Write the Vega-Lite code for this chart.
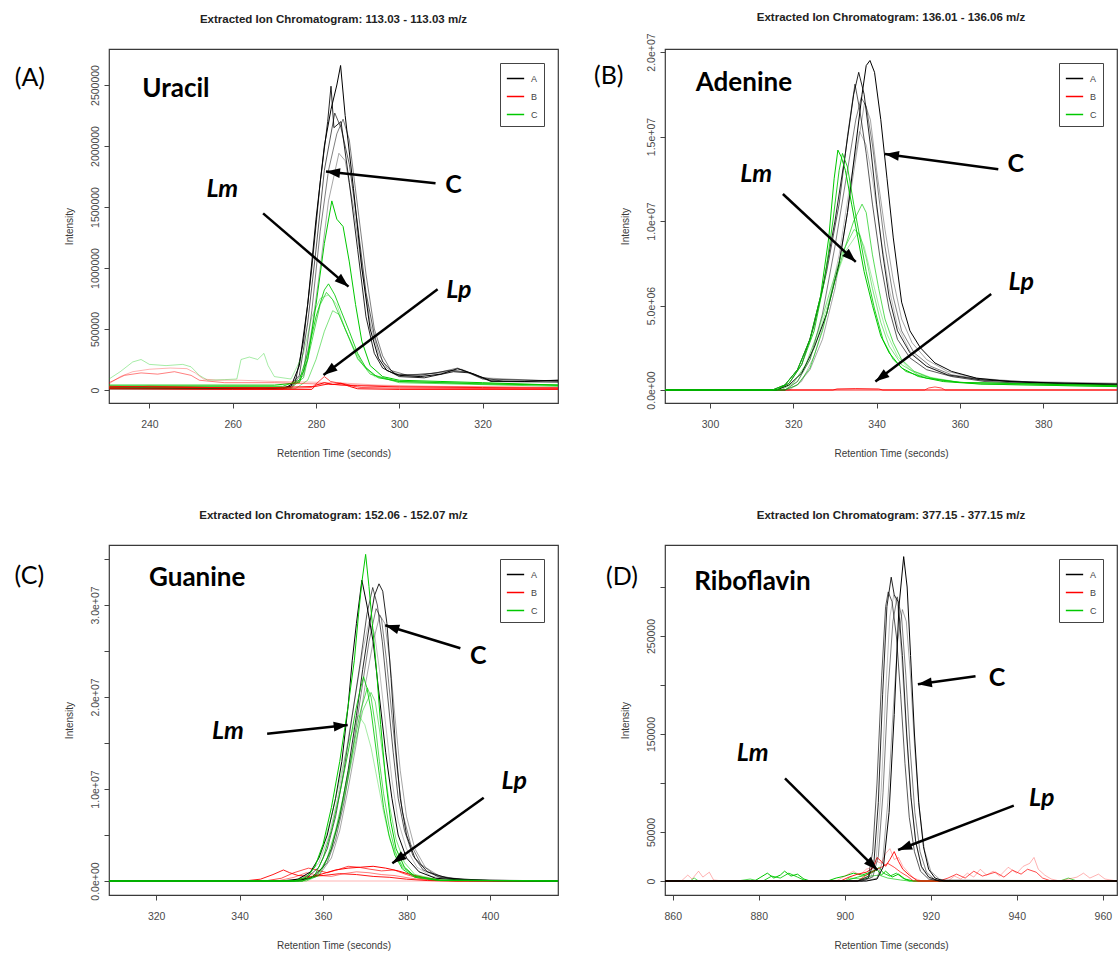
{
"$schema": "https://vega.github.io/schema/vega-lite/v6.json",
"background": "white",
"padding": {"left": 13, "top": 11, "right": 0, "bottom": 0},
"columns": 2,
"spacing": {"row": 142, "column": 107},
"bounds": "flush",
"resolve": {"scale": {"x": "independent", "y": "independent", "color": "independent", "opacity": "independent", "angle": "independent"}, "legend": {"color": "independent"}},
"config": {
 "font": "Liberation Sans",
 "view": {"stroke": "#3a3a3a", "strokeWidth": 1.2},
 "axis": {"grid": false, "domain": false, "tickColor": "#444", "tickSize": 5, "tickWidth": 1, "labelColor": "#4a4a4a", "labelFontSize": 10.5, "labelFont": "Liberation Sans", "titleFont": "Liberation Sans", "titleFontSize": 10, "titleFontWeight": "normal", "titleColor": "#3a3a3a", "labelOverlap": false, "labelFlush": false},
 "axisX": {"labelPadding": 11, "minExtent": 27, "maxExtent": 27, "titlePadding": 18},
 "axisY": {"labelAngle": -90, "labelAlign": "center", "labelBaseline": "bottom", "labelPadding": 4, "minExtent": 22, "maxExtent": 22, "titlePadding": 13},
 "title": {"font": "Liberation Sans", "fontSize": 11.5, "fontWeight": "bold", "color": "#222", "anchor": "middle", "frame": "group", "offset": 24, "baseline": "bottom"},
 "legend": {"orient": "top-right", "offset": 14, "strokeColor": "#444", "fillColor": "white", "padding": 6, "symbolType": "stroke", "symbolSize": 300, "symbolStrokeWidth": 1.5, "labelFont": "Liberation Sans", "labelFontSize": 9, "labelColor": "#444", "rowPadding": 3, "labelOffset": 6}
},
"datasets": {
 "pA": [
  {"s":"A1","g":"A","t":230.3,"v":15000},{"s":"A1","g":"A","t":270,"v":12000},{"s":"A1","g":"A","t":274,"v":30000},{"s":"A1","g":"A","t":276,"v":200000},{"s":"A1","g":"A","t":278,"v":700000},{"s":"A1","g":"A","t":280,"v":1400000},{"s":"A1","g":"A","t":282,"v":2000000},{"s":"A1","g":"A","t":283.6,"v":2300000},{"s":"A1","g":"A","t":285,"v":2500000},{"s":"A1","g":"A","t":285.9,"v":2660000},{"s":"A1","g":"A","t":287,"v":2250000},{"s":"A1","g":"A","t":289,"v":1650000},{"s":"A1","g":"A","t":291,"v":1000000},{"s":"A1","g":"A","t":293,"v":500000},{"s":"A1","g":"A","t":295,"v":260000},{"s":"A1","g":"A","t":297,"v":160000},{"s":"A1","g":"A","t":300,"v":120000},{"s":"A1","g":"A","t":305,"v":110000},{"s":"A1","g":"A","t":310,"v":130000},{"s":"A1","g":"A","t":314,"v":175000},{"s":"A1","g":"A","t":318,"v":130000},{"s":"A1","g":"A","t":322,"v":75000},{"s":"A1","g":"A","t":330,"v":70000},{"s":"A1","g":"A","t":338.1,"v":80000},
  {"s":"A2","g":"A","t":230.3,"v":10000},{"s":"A2","g":"A","t":272,"v":8000},{"s":"A2","g":"A","t":275,"v":60000},{"s":"A2","g":"A","t":277,"v":400000},{"s":"A2","g":"A","t":279,"v":1000000},{"s":"A2","g":"A","t":281,"v":1700000},{"s":"A2","g":"A","t":282.8,"v":2200000},{"s":"A2","g":"A","t":283.6,"v":2490000},{"s":"A2","g":"A","t":284.3,"v":2150000},{"s":"A2","g":"A","t":286,"v":2200000},{"s":"A2","g":"A","t":288,"v":1700000},{"s":"A2","g":"A","t":290,"v":1150000},{"s":"A2","g":"A","t":292,"v":600000},{"s":"A2","g":"A","t":294,"v":300000},{"s":"A2","g":"A","t":296,"v":180000},{"s":"A2","g":"A","t":300,"v":110000},{"s":"A2","g":"A","t":306,"v":100000},{"s":"A2","g":"A","t":313,"v":150000},{"s":"A2","g":"A","t":317,"v":140000},{"s":"A2","g":"A","t":322,"v":70000},{"s":"A2","g":"A","t":338.1,"v":65000},
  {"s":"A3","g":"A","t":230.3,"v":20000},{"s":"A3","g":"A","t":273,"v":15000},{"s":"A3","g":"A","t":276,"v":120000},{"s":"A3","g":"A","t":278,"v":550000},{"s":"A3","g":"A","t":280,"v":1150000},{"s":"A3","g":"A","t":282,"v":1800000},{"s":"A3","g":"A","t":284.5,"v":2270000},{"s":"A3","g":"A","t":286,"v":2150000},{"s":"A3","g":"A","t":288,"v":1850000},{"s":"A3","g":"A","t":290,"v":1350000},{"s":"A3","g":"A","t":292,"v":800000},{"s":"A3","g":"A","t":294,"v":450000},{"s":"A3","g":"A","t":296,"v":230000},{"s":"A3","g":"A","t":299,"v":130000},{"s":"A3","g":"A","t":305,"v":120000},{"s":"A3","g":"A","t":312,"v":160000},{"s":"A3","g":"A","t":316,"v":150000},{"s":"A3","g":"A","t":320,"v":90000},{"s":"A3","g":"A","t":338.1,"v":75000},
  {"s":"A4","g":"A","t":230.3,"v":25000},{"s":"A4","g":"A","t":274,"v":20000},{"s":"A4","g":"A","t":277,"v":150000},{"s":"A4","g":"A","t":279,"v":650000},{"s":"A4","g":"A","t":281,"v":1300000},{"s":"A4","g":"A","t":283,"v":1800000},{"s":"A4","g":"A","t":285,"v":2100000},{"s":"A4","g":"A","t":286.5,"v":2220000},{"s":"A4","g":"A","t":288,"v":2050000},{"s":"A4","g":"A","t":290,"v":1500000},{"s":"A4","g":"A","t":292,"v":950000},{"s":"A4","g":"A","t":294,"v":500000},{"s":"A4","g":"A","t":296,"v":280000},{"s":"A4","g":"A","t":298,"v":160000},{"s":"A4","g":"A","t":302,"v":120000},{"s":"A4","g":"A","t":309,"v":140000},{"s":"A4","g":"A","t":314,"v":180000},{"s":"A4","g":"A","t":319,"v":110000},{"s":"A4","g":"A","t":325,"v":70000},{"s":"A4","g":"A","t":338.1,"v":80000},
  {"s":"A5","g":"A","t":230.3,"v":10000},{"s":"A5","g":"A","t":274,"v":10000},{"s":"A5","g":"A","t":277,"v":120000},{"s":"A5","g":"A","t":279,"v":500000},{"s":"A5","g":"A","t":281,"v":1000000},{"s":"A5","g":"A","t":283,"v":1550000},{"s":"A5","g":"A","t":285.5,"v":1940000},{"s":"A5","g":"A","t":287,"v":1880000},{"s":"A5","g":"A","t":289,"v":1500000},{"s":"A5","g":"A","t":291,"v":1000000},{"s":"A5","g":"A","t":293,"v":550000},{"s":"A5","g":"A","t":295,"v":300000},{"s":"A5","g":"A","t":297,"v":180000},{"s":"A5","g":"A","t":300,"v":120000},{"s":"A5","g":"A","t":310,"v":140000},{"s":"A5","g":"A","t":315,"v":170000},{"s":"A5","g":"A","t":320,"v":100000},{"s":"A5","g":"A","t":338.1,"v":70000},
  {"s":"C1","g":"C","t":230.3,"v":40000},{"s":"C1","g":"C","t":270,"v":40000},{"s":"C1","g":"C","t":276,"v":60000},{"s":"C1","g":"C","t":278,"v":250000},{"s":"C1","g":"C","t":280,"v":700000},{"s":"C1","g":"C","t":282,"v":1200000},{"s":"C1","g":"C","t":283.8,"v":1550000},{"s":"C1","g":"C","t":285,"v":1400000},{"s":"C1","g":"C","t":286.5,"v":1340000},{"s":"C1","g":"C","t":288,"v":1050000},{"s":"C1","g":"C","t":289.5,"v":700000},{"s":"C1","g":"C","t":291,"v":400000},{"s":"C1","g":"C","t":293,"v":200000},{"s":"C1","g":"C","t":296,"v":110000},{"s":"C1","g":"C","t":300,"v":80000},{"s":"C1","g":"C","t":310,"v":70000},{"s":"C1","g":"C","t":320,"v":60000},{"s":"C1","g":"C","t":338.1,"v":40000},
  {"s":"C2","g":"C","t":230.3,"v":30000},{"s":"C2","g":"C","t":272,"v":30000},{"s":"C2","g":"C","t":276,"v":80000},{"s":"C2","g":"C","t":278,"v":300000},{"s":"C2","g":"C","t":280,"v":600000},{"s":"C2","g":"C","t":282,"v":820000},{"s":"C2","g":"C","t":283,"v":870000},{"s":"C2","g":"C","t":284.5,"v":780000},{"s":"C2","g":"C","t":286,"v":650000},{"s":"C2","g":"C","t":288,"v":480000},{"s":"C2","g":"C","t":290,"v":300000},{"s":"C2","g":"C","t":292,"v":180000},{"s":"C2","g":"C","t":295,"v":100000},{"s":"C2","g":"C","t":300,"v":70000},{"s":"C2","g":"C","t":320,"v":50000},{"s":"C2","g":"C","t":338.1,"v":40000},
  {"s":"C3","g":"C","t":230.3,"v":20000},{"s":"C3","g":"C","t":274,"v":20000},{"s":"C3","g":"C","t":277,"v":100000},{"s":"C3","g":"C","t":279,"v":400000},{"s":"C3","g":"C","t":281,"v":700000},{"s":"C3","g":"C","t":282.5,"v":800000},{"s":"C3","g":"C","t":284,"v":740000},{"s":"C3","g":"C","t":286,"v":580000},{"s":"C3","g":"C","t":288,"v":420000},{"s":"C3","g":"C","t":290,"v":260000},{"s":"C3","g":"C","t":293,"v":130000},{"s":"C3","g":"C","t":300,"v":60000},{"s":"C3","g":"C","t":338.1,"v":30000},
  {"s":"C4","g":"C","t":230.3,"v":10000},{"s":"C4","g":"C","t":275,"v":10000},{"s":"C4","g":"C","t":278,"v":80000},{"s":"C4","g":"C","t":280,"v":250000},{"s":"C4","g":"C","t":282,"v":480000},{"s":"C4","g":"C","t":284,"v":650000},{"s":"C4","g":"C","t":285.5,"v":620000},{"s":"C4","g":"C","t":287,"v":500000},{"s":"C4","g":"C","t":289,"v":350000},{"s":"C4","g":"C","t":291,"v":220000},{"s":"C4","g":"C","t":294,"v":120000},{"s":"C4","g":"C","t":300,"v":70000},{"s":"C4","g":"C","t":338.1,"v":40000},
  {"s":"C5","g":"C","t":230.3,"v":90000},{"s":"C5","g":"C","t":233,"v":150000},{"s":"C5","g":"C","t":236,"v":230000},{"s":"C5","g":"C","t":238,"v":250000},{"s":"C5","g":"C","t":240,"v":210000},{"s":"C5","g":"C","t":244,"v":200000},{"s":"C5","g":"C","t":248,"v":210000},{"s":"C5","g":"C","t":250,"v":190000},{"s":"C5","g":"C","t":252,"v":120000},{"s":"C5","g":"C","t":254,"v":80000},{"s":"C5","g":"C","t":258,"v":85000},{"s":"C5","g":"C","t":261,"v":90000},{"s":"C5","g":"C","t":262,"v":250000},{"s":"C5","g":"C","t":264,"v":270000},{"s":"C5","g":"C","t":266,"v":250000},{"s":"C5","g":"C","t":267.5,"v":300000},{"s":"C5","g":"C","t":268.5,"v":200000},{"s":"C5","g":"C","t":270,"v":110000},{"s":"C5","g":"C","t":274,"v":90000},{"s":"C5","g":"C","t":277,"v":300000},{"s":"C5","g":"C","t":279,"v":600000},{"s":"C5","g":"C","t":281,"v":750000},{"s":"C5","g":"C","t":283,"v":780000},{"s":"C5","g":"C","t":285,"v":700000},{"s":"C5","g":"C","t":287,"v":500000},{"s":"C5","g":"C","t":290,"v":250000},{"s":"C5","g":"C","t":294,"v":110000},{"s":"C5","g":"C","t":300,"v":70000},{"s":"C5","g":"C","t":320,"v":50000},{"s":"C5","g":"C","t":338.1,"v":40000},
  {"s":"B1","g":"B","t":230.3,"v":50000},{"s":"B1","g":"B","t":233,"v":110000},{"s":"B1","g":"B","t":236,"v":150000},{"s":"B1","g":"B","t":240,"v":170000},{"s":"B1","g":"B","t":245,"v":180000},{"s":"B1","g":"B","t":249,"v":175000},{"s":"B1","g":"B","t":251,"v":140000},{"s":"B1","g":"B","t":253,"v":90000},{"s":"B1","g":"B","t":256,"v":80000},{"s":"B1","g":"B","t":262,"v":80000},{"s":"B1","g":"B","t":270,"v":70000},{"s":"B1","g":"B","t":278,"v":65000},{"s":"B1","g":"B","t":285,"v":60000},{"s":"B1","g":"B","t":295,"v":40000},{"s":"B1","g":"B","t":310,"v":30000},{"s":"B1","g":"B","t":338.1,"v":20000},
  {"s":"B5","g":"B","t":230.3,"v":60000},{"s":"B5","g":"B","t":234,"v":120000},{"s":"B5","g":"B","t":238,"v":140000},{"s":"B5","g":"B","t":242,"v":130000},{"s":"B5","g":"B","t":246,"v":150000},{"s":"B5","g":"B","t":250,"v":120000},{"s":"B5","g":"B","t":252,"v":80000},{"s":"B5","g":"B","t":258,"v":60000},{"s":"B5","g":"B","t":270,"v":60000},{"s":"B5","g":"B","t":280,"v":50000},{"s":"B5","g":"B","t":300,"v":30000},{"s":"B5","g":"B","t":338.1,"v":20000},
  {"s":"B2","g":"B","t":230.3,"v":30000},{"s":"B2","g":"B","t":250,"v":20000},{"s":"B2","g":"B","t":270,"v":20000},{"s":"B2","g":"B","t":280,"v":30000},{"s":"B2","g":"B","t":283,"v":50000},{"s":"B2","g":"B","t":286,"v":40000},{"s":"B2","g":"B","t":290,"v":35000},{"s":"B2","g":"B","t":300,"v":25000},{"s":"B2","g":"B","t":320,"v":20000},{"s":"B2","g":"B","t":338.1,"v":15000},
  {"s":"B3","g":"B","t":230.3,"v":20000},{"s":"B3","g":"B","t":240,"v":30000},{"s":"B3","g":"B","t":250,"v":25000},{"s":"B3","g":"B","t":260,"v":15000},{"s":"B3","g":"B","t":270,"v":10000},{"s":"B3","g":"B","t":279,"v":20000},{"s":"B3","g":"B","t":281,"v":80000},{"s":"B3","g":"B","t":282,"v":110000},{"s":"B3","g":"B","t":283.5,"v":70000},{"s":"B3","g":"B","t":285,"v":60000},{"s":"B3","g":"B","t":287,"v":50000},{"s":"B3","g":"B","t":289,"v":30000},{"s":"B3","g":"B","t":291,"v":20000},{"s":"B3","g":"B","t":300,"v":15000},{"s":"B3","g":"B","t":338.1,"v":10000},
  {"s":"B4","g":"B","t":230.3,"v":10000},{"s":"B4","g":"B","t":260,"v":5000},{"s":"B4","g":"B","t":279,"v":5000},{"s":"B4","g":"B","t":280,"v":40000},{"s":"B4","g":"B","t":282,"v":60000},{"s":"B4","g":"B","t":284,"v":45000},{"s":"B4","g":"B","t":286,"v":55000},{"s":"B4","g":"B","t":288,"v":30000},{"s":"B4","g":"B","t":290,"v":10000},{"s":"B4","g":"B","t":300,"v":5000},{"s":"B4","g":"B","t":338.1,"v":5000}
 ],
 "pB": [
  {"s":"B1","g":"B","t":289.2,"v":0},{"s":"B1","g":"B","t":330,"v":0},{"s":"B1","g":"B","t":350,"v":0},{"s":"B1","g":"B","t":397.7,"v":0},
  {"s":"B2","g":"B","t":289.2,"v":0},{"s":"B2","g":"B","t":329.5,"v":0},{"s":"B2","g":"B","t":330.5,"v":60000},{"s":"B2","g":"B","t":335,"v":80000},{"s":"B2","g":"B","t":340.5,"v":60000},{"s":"B2","g":"B","t":341.5,"v":0},{"s":"B2","g":"B","t":397.7,"v":0},
  {"s":"B3","g":"B","t":289.2,"v":0},{"s":"B3","g":"B","t":351.5,"v":0},{"s":"B3","g":"B","t":352.5,"v":120000},{"s":"B3","g":"B","t":354,"v":180000},{"s":"B3","g":"B","t":355.5,"v":120000},{"s":"B3","g":"B","t":356.5,"v":0},{"s":"B3","g":"B","t":397.7,"v":0},
  {"s":"A1","g":"A","t":289.2,"v":0},{"s":"A1","g":"A","t":316,"v":0},{"s":"A1","g":"A","t":319,"v":300000},{"s":"A1","g":"A","t":322,"v":1000000},{"s":"A1","g":"A","t":325,"v":2500000},{"s":"A1","g":"A","t":328,"v":4500000},{"s":"A1","g":"A","t":331,"v":7500000},{"s":"A1","g":"A","t":333,"v":10500000},{"s":"A1","g":"A","t":335,"v":14500000},{"s":"A1","g":"A","t":336.5,"v":17500000},{"s":"A1","g":"A","t":337.5,"v":19200000},{"s":"A1","g":"A","t":338.4,"v":19500000},{"s":"A1","g":"A","t":339.5,"v":18800000},{"s":"A1","g":"A","t":341,"v":16000000},{"s":"A1","g":"A","t":342.5,"v":12500000},{"s":"A1","g":"A","t":344,"v":9000000},{"s":"A1","g":"A","t":346,"v":5200000},{"s":"A1","g":"A","t":348,"v":3500000},{"s":"A1","g":"A","t":350.5,"v":2500000},{"s":"A1","g":"A","t":354,"v":1600000},{"s":"A1","g":"A","t":358,"v":1100000},{"s":"A1","g":"A","t":364,"v":700000},{"s":"A1","g":"A","t":372,"v":500000},{"s":"A1","g":"A","t":385,"v":400000},{"s":"A1","g":"A","t":397.7,"v":350000},
  {"s":"A2","g":"A","t":289.2,"v":0},{"s":"A2","g":"A","t":315,"v":0},{"s":"A2","g":"A","t":318,"v":300000},{"s":"A2","g":"A","t":321,"v":1200000},{"s":"A2","g":"A","t":324,"v":3000000},{"s":"A2","g":"A","t":327,"v":6000000},{"s":"A2","g":"A","t":330,"v":10000000},{"s":"A2","g":"A","t":332.5,"v":14000000},{"s":"A2","g":"A","t":334.5,"v":17500000},{"s":"A2","g":"A","t":335.7,"v":18800000},{"s":"A2","g":"A","t":337,"v":17500000},{"s":"A2","g":"A","t":338.5,"v":14500000},{"s":"A2","g":"A","t":340,"v":11000000},{"s":"A2","g":"A","t":341.5,"v":8000000},{"s":"A2","g":"A","t":343,"v":5500000},{"s":"A2","g":"A","t":345,"v":3500000},{"s":"A2","g":"A","t":348,"v":2200000},{"s":"A2","g":"A","t":352,"v":1400000},{"s":"A2","g":"A","t":357,"v":900000},{"s":"A2","g":"A","t":365,"v":600000},{"s":"A2","g":"A","t":380,"v":400000},{"s":"A2","g":"A","t":397.7,"v":300000},
  {"s":"A3","g":"A","t":289.2,"v":0},{"s":"A3","g":"A","t":316,"v":0},{"s":"A3","g":"A","t":319,"v":400000},{"s":"A3","g":"A","t":322,"v":1500000},{"s":"A3","g":"A","t":325,"v":3800000},{"s":"A3","g":"A","t":328,"v":7000000},{"s":"A3","g":"A","t":331,"v":11000000},{"s":"A3","g":"A","t":333,"v":15000000},{"s":"A3","g":"A","t":334.8,"v":18100000},{"s":"A3","g":"A","t":336,"v":16500000},{"s":"A3","g":"A","t":337.5,"v":14000000},{"s":"A3","g":"A","t":339,"v":11000000},{"s":"A3","g":"A","t":341,"v":7500000},{"s":"A3","g":"A","t":343,"v":4800000},{"s":"A3","g":"A","t":345,"v":3000000},{"s":"A3","g":"A","t":348,"v":1900000},{"s":"A3","g":"A","t":352,"v":1200000},{"s":"A3","g":"A","t":358,"v":800000},{"s":"A3","g":"A","t":366,"v":500000},{"s":"A3","g":"A","t":380,"v":350000},{"s":"A3","g":"A","t":397.7,"v":300000},
  {"s":"A4","g":"A","t":289.2,"v":0},{"s":"A4","g":"A","t":318,"v":0},{"s":"A4","g":"A","t":321,"v":500000},{"s":"A4","g":"A","t":324,"v":1800000},{"s":"A4","g":"A","t":327,"v":4500000},{"s":"A4","g":"A","t":330,"v":8500000},{"s":"A4","g":"A","t":333,"v":13000000},{"s":"A4","g":"A","t":335,"v":16000000},{"s":"A4","g":"A","t":336.3,"v":17300000},{"s":"A4","g":"A","t":337.5,"v":16800000},{"s":"A4","g":"A","t":339,"v":14500000},{"s":"A4","g":"A","t":340.5,"v":11500000},{"s":"A4","g":"A","t":342,"v":8500000},{"s":"A4","g":"A","t":344,"v":5500000},{"s":"A4","g":"A","t":346,"v":3500000},{"s":"A4","g":"A","t":349,"v":2200000},{"s":"A4","g":"A","t":353,"v":1400000},{"s":"A4","g":"A","t":358,"v":900000},{"s":"A4","g":"A","t":366,"v":600000},{"s":"A4","g":"A","t":380,"v":450000},{"s":"A4","g":"A","t":397.7,"v":350000},
  {"s":"A5","g":"A","t":289.2,"v":0},{"s":"A5","g":"A","t":318,"v":0},{"s":"A5","g":"A","t":321,"v":300000},{"s":"A5","g":"A","t":324,"v":1200000},{"s":"A5","g":"A","t":327,"v":3000000},{"s":"A5","g":"A","t":330,"v":6000000},{"s":"A5","g":"A","t":333,"v":10500000},{"s":"A5","g":"A","t":335.5,"v":14500000},{"s":"A5","g":"A","t":337.1,"v":17000000},{"s":"A5","g":"A","t":338.5,"v":16000000},{"s":"A5","g":"A","t":340,"v":13000000},{"s":"A5","g":"A","t":342,"v":9500000},{"s":"A5","g":"A","t":344,"v":6500000},{"s":"A5","g":"A","t":346,"v":4200000},{"s":"A5","g":"A","t":348.5,"v":2800000},{"s":"A5","g":"A","t":352,"v":1800000},{"s":"A5","g":"A","t":357,"v":1100000},{"s":"A5","g":"A","t":364,"v":700000},{"s":"A5","g":"A","t":375,"v":500000},{"s":"A5","g":"A","t":397.7,"v":400000},
  {"s":"A6","g":"A","t":289.2,"v":0},{"s":"A6","g":"A","t":319,"v":0},{"s":"A6","g":"A","t":322,"v":500000},{"s":"A6","g":"A","t":325,"v":2000000},{"s":"A6","g":"A","t":328,"v":4500000},{"s":"A6","g":"A","t":331,"v":8000000},{"s":"A6","g":"A","t":333.5,"v":12000000},{"s":"A6","g":"A","t":335.9,"v":15300000},{"s":"A6","g":"A","t":337.5,"v":14500000},{"s":"A6","g":"A","t":339,"v":12500000},{"s":"A6","g":"A","t":341,"v":9000000},{"s":"A6","g":"A","t":343,"v":6000000},{"s":"A6","g":"A","t":345,"v":3800000},{"s":"A6","g":"A","t":348,"v":2300000},{"s":"A6","g":"A","t":352,"v":1400000},{"s":"A6","g":"A","t":358,"v":800000},{"s":"A6","g":"A","t":368,"v":500000},{"s":"A6","g":"A","t":397.7,"v":300000},
  {"s":"C1","g":"C","t":289.2,"v":0},{"s":"C1","g":"C","t":315,"v":0},{"s":"C1","g":"C","t":318,"v":300000},{"s":"C1","g":"C","t":321,"v":1200000},{"s":"C1","g":"C","t":324,"v":3000000},{"s":"C1","g":"C","t":326.5,"v":5500000},{"s":"C1","g":"C","t":328.5,"v":9000000},{"s":"C1","g":"C","t":329.8,"v":12500000},{"s":"C1","g":"C","t":330.7,"v":14200000},{"s":"C1","g":"C","t":331.5,"v":13800000},{"s":"C1","g":"C","t":332.5,"v":13000000},{"s":"C1","g":"C","t":334,"v":11000000},{"s":"C1","g":"C","t":335.5,"v":9000000},{"s":"C1","g":"C","t":337,"v":7000000},{"s":"C1","g":"C","t":339,"v":5000000},{"s":"C1","g":"C","t":341,"v":3200000},{"s":"C1","g":"C","t":343,"v":2200000},{"s":"C1","g":"C","t":346,"v":1300000},{"s":"C1","g":"C","t":350,"v":800000},{"s":"C1","g":"C","t":356,"v":500000},{"s":"C1","g":"C","t":365,"v":350000},{"s":"C1","g":"C","t":397.7,"v":200000},
  {"s":"C2","g":"C","t":289.2,"v":0},{"s":"C2","g":"C","t":316,"v":0},{"s":"C2","g":"C","t":319,"v":400000},{"s":"C2","g":"C","t":322,"v":1500000},{"s":"C2","g":"C","t":325,"v":3500000},{"s":"C2","g":"C","t":327.5,"v":6500000},{"s":"C2","g":"C","t":329.5,"v":10000000},{"s":"C2","g":"C","t":331,"v":13000000},{"s":"C2","g":"C","t":331.8,"v":14000000},{"s":"C2","g":"C","t":333,"v":13200000},{"s":"C2","g":"C","t":334.5,"v":11000000},{"s":"C2","g":"C","t":336,"v":9000000},{"s":"C2","g":"C","t":337.5,"v":7000000},{"s":"C2","g":"C","t":339.5,"v":4800000},{"s":"C2","g":"C","t":341.5,"v":3000000},{"s":"C2","g":"C","t":344,"v":1800000},{"s":"C2","g":"C","t":347,"v":1100000},{"s":"C2","g":"C","t":352,"v":700000},{"s":"C2","g":"C","t":360,"v":450000},{"s":"C2","g":"C","t":397.7,"v":250000},
  {"s":"C3","g":"C","t":289.2,"v":0},{"s":"C3","g":"C","t":318,"v":0},{"s":"C3","g":"C","t":321,"v":300000},{"s":"C3","g":"C","t":324,"v":1300000},{"s":"C3","g":"C","t":327,"v":3500000},{"s":"C3","g":"C","t":330,"v":6500000},{"s":"C3","g":"C","t":332.5,"v":8500000},{"s":"C3","g":"C","t":334.5,"v":10000000},{"s":"C3","g":"C","t":336.5,"v":11000000},{"s":"C3","g":"C","t":337.5,"v":10500000},{"s":"C3","g":"C","t":339,"v":8000000},{"s":"C3","g":"C","t":340.5,"v":6000000},{"s":"C3","g":"C","t":342,"v":4200000},{"s":"C3","g":"C","t":344,"v":2800000},{"s":"C3","g":"C","t":346,"v":1800000},{"s":"C3","g":"C","t":349,"v":1100000},{"s":"C3","g":"C","t":353,"v":700000},{"s":"C3","g":"C","t":360,"v":450000},{"s":"C3","g":"C","t":397.7,"v":250000},
  {"s":"C4","g":"C","t":289.2,"v":0},{"s":"C4","g":"C","t":317,"v":0},{"s":"C4","g":"C","t":320,"v":400000},{"s":"C4","g":"C","t":323,"v":1500000},{"s":"C4","g":"C","t":326,"v":3500000},{"s":"C4","g":"C","t":329,"v":6000000},{"s":"C4","g":"C","t":331.5,"v":8000000},{"s":"C4","g":"C","t":334.6,"v":9500000},{"s":"C4","g":"C","t":336,"v":9200000},{"s":"C4","g":"C","t":337.5,"v":7800000},{"s":"C4","g":"C","t":339,"v":6000000},{"s":"C4","g":"C","t":341,"v":4000000},{"s":"C4","g":"C","t":343,"v":2600000},{"s":"C4","g":"C","t":346,"v":1500000},{"s":"C4","g":"C","t":350,"v":900000},{"s":"C4","g":"C","t":356,"v":550000},{"s":"C4","g":"C","t":365,"v":350000},{"s":"C4","g":"C","t":397.7,"v":200000},
  {"s":"C5","g":"C","t":289.2,"v":0},{"s":"C5","g":"C","t":318,"v":0},{"s":"C5","g":"C","t":321,"v":500000},{"s":"C5","g":"C","t":324,"v":1800000},{"s":"C5","g":"C","t":327,"v":4000000},{"s":"C5","g":"C","t":330,"v":6500000},{"s":"C5","g":"C","t":332.5,"v":8200000},{"s":"C5","g":"C","t":335.5,"v":9300000},{"s":"C5","g":"C","t":337,"v":8500000},{"s":"C5","g":"C","t":338.5,"v":7000000},{"s":"C5","g":"C","t":340.5,"v":5000000},{"s":"C5","g":"C","t":342.5,"v":3300000},{"s":"C5","g":"C","t":345,"v":2000000},{"s":"C5","g":"C","t":348,"v":1200000},{"s":"C5","g":"C","t":353,"v":750000},{"s":"C5","g":"C","t":360,"v":450000},{"s":"C5","g":"C","t":397.7,"v":300000}
 ],
 "pC": [
  {"s":"B1","g":"B","t":308.7,"v":0},{"s":"B1","g":"B","t":340,"v":0},{"s":"B1","g":"B","t":380,"v":0},{"s":"B1","g":"B","t":416.3,"v":0},
  {"s":"B2","g":"B","t":308.7,"v":0},{"s":"B2","g":"B","t":341,"v":0},{"s":"B2","g":"B","t":345,"v":200000},{"s":"B2","g":"B","t":348,"v":700000},{"s":"B2","g":"B","t":350.5,"v":1200000},{"s":"B2","g":"B","t":352,"v":900000},{"s":"B2","g":"B","t":354,"v":600000},{"s":"B2","g":"B","t":357,"v":500000},{"s":"B2","g":"B","t":360,"v":600000},{"s":"B2","g":"B","t":364,"v":800000},{"s":"B2","g":"B","t":368,"v":700000},{"s":"B2","g":"B","t":372,"v":500000},{"s":"B2","g":"B","t":376,"v":400000},{"s":"B2","g":"B","t":380,"v":200000},{"s":"B2","g":"B","t":385,"v":50000},{"s":"B2","g":"B","t":390,"v":0},{"s":"B2","g":"B","t":416.3,"v":0},
  {"s":"B3","g":"B","t":308.7,"v":0},{"s":"B3","g":"B","t":346,"v":0},{"s":"B3","g":"B","t":350,"v":300000},{"s":"B3","g":"B","t":353,"v":900000},{"s":"B3","g":"B","t":356.5,"v":1400000},{"s":"B3","g":"B","t":358.5,"v":1200000},{"s":"B3","g":"B","t":361,"v":900000},{"s":"B3","g":"B","t":364,"v":1300000},{"s":"B3","g":"B","t":366,"v":1600000},{"s":"B3","g":"B","t":368.5,"v":1500000},{"s":"B3","g":"B","t":371,"v":1300000},{"s":"B3","g":"B","t":374,"v":1100000},{"s":"B3","g":"B","t":377,"v":1200000},{"s":"B3","g":"B","t":380,"v":700000},{"s":"B3","g":"B","t":383,"v":300000},{"s":"B3","g":"B","t":387,"v":50000},{"s":"B3","g":"B","t":416.3,"v":0},
  {"s":"B4","g":"B","t":308.7,"v":0},{"s":"B4","g":"B","t":352,"v":0},{"s":"B4","g":"B","t":356,"v":300000},{"s":"B4","g":"B","t":360,"v":800000},{"s":"B4","g":"B","t":363,"v":1200000},{"s":"B4","g":"B","t":366,"v":1400000},{"s":"B4","g":"B","t":369,"v":1500000},{"s":"B4","g":"B","t":372,"v":1600000},{"s":"B4","g":"B","t":375,"v":1400000},{"s":"B4","g":"B","t":378,"v":1100000},{"s":"B4","g":"B","t":381,"v":700000},{"s":"B4","g":"B","t":384,"v":400000},{"s":"B4","g":"B","t":388,"v":100000},{"s":"B4","g":"B","t":392,"v":0},{"s":"B4","g":"B","t":416.3,"v":0},
  {"s":"B5","g":"B","t":308.7,"v":0},{"s":"B5","g":"B","t":349,"v":0},{"s":"B5","g":"B","t":353,"v":400000},{"s":"B5","g":"B","t":356,"v":900000},{"s":"B5","g":"B","t":359,"v":600000},{"s":"B5","g":"B","t":362,"v":500000},{"s":"B5","g":"B","t":365,"v":800000},{"s":"B5","g":"B","t":368,"v":1000000},{"s":"B5","g":"B","t":371,"v":900000},{"s":"B5","g":"B","t":374,"v":700000},{"s":"B5","g":"B","t":377,"v":600000},{"s":"B5","g":"B","t":381,"v":300000},{"s":"B5","g":"B","t":386,"v":50000},{"s":"B5","g":"B","t":416.3,"v":0},
  {"s":"A1","g":"A","t":308.7,"v":0},{"s":"A1","g":"A","t":350,"v":0},{"s":"A1","g":"A","t":354,"v":200000},{"s":"A1","g":"A","t":357,"v":1000000},{"s":"A1","g":"A","t":359,"v":2500000},{"s":"A1","g":"A","t":361,"v":5000000},{"s":"A1","g":"A","t":363,"v":9000000},{"s":"A1","g":"A","t":364.5,"v":13000000},{"s":"A1","g":"A","t":366,"v":19000000},{"s":"A1","g":"A","t":367,"v":24000000},{"s":"A1","g":"A","t":368,"v":28000000},{"s":"A1","g":"A","t":369.3,"v":32700000},{"s":"A1","g":"A","t":370.5,"v":30000000},{"s":"A1","g":"A","t":372,"v":26000000},{"s":"A1","g":"A","t":373.5,"v":20000000},{"s":"A1","g":"A","t":375,"v":14000000},{"s":"A1","g":"A","t":376.5,"v":9000000},{"s":"A1","g":"A","t":378,"v":5000000},{"s":"A1","g":"A","t":380,"v":2500000},{"s":"A1","g":"A","t":383,"v":1000000},{"s":"A1","g":"A","t":387,"v":300000},{"s":"A1","g":"A","t":395,"v":50000},{"s":"A1","g":"A","t":416.3,"v":0},
  {"s":"A2","g":"A","t":308.7,"v":0},{"s":"A2","g":"A","t":353,"v":0},{"s":"A2","g":"A","t":357,"v":300000},{"s":"A2","g":"A","t":360,"v":1500000},{"s":"A2","g":"A","t":362,"v":3500000},{"s":"A2","g":"A","t":364,"v":7000000},{"s":"A2","g":"A","t":366,"v":12000000},{"s":"A2","g":"A","t":368,"v":18000000},{"s":"A2","g":"A","t":369.5,"v":23000000},{"s":"A2","g":"A","t":371,"v":27500000},{"s":"A2","g":"A","t":372.3,"v":31000000},{"s":"A2","g":"A","t":373.4,"v":32300000},{"s":"A2","g":"A","t":374.3,"v":31500000},{"s":"A2","g":"A","t":375.3,"v":28000000},{"s":"A2","g":"A","t":376.3,"v":22000000},{"s":"A2","g":"A","t":377.3,"v":15000000},{"s":"A2","g":"A","t":378.5,"v":9000000},{"s":"A2","g":"A","t":380,"v":5000000},{"s":"A2","g":"A","t":382,"v":2500000},{"s":"A2","g":"A","t":385,"v":1000000},{"s":"A2","g":"A","t":390,"v":300000},{"s":"A2","g":"A","t":400,"v":50000},{"s":"A2","g":"A","t":416.3,"v":0},
  {"s":"A3","g":"A","t":308.7,"v":0},{"s":"A3","g":"A","t":352,"v":0},{"s":"A3","g":"A","t":356,"v":300000},{"s":"A3","g":"A","t":359,"v":1500000},{"s":"A3","g":"A","t":361,"v":3500000},{"s":"A3","g":"A","t":363,"v":7000000},{"s":"A3","g":"A","t":365,"v":12000000},{"s":"A3","g":"A","t":367,"v":18000000},{"s":"A3","g":"A","t":369,"v":24000000},{"s":"A3","g":"A","t":370.5,"v":29000000},{"s":"A3","g":"A","t":371.9,"v":31900000},{"s":"A3","g":"A","t":373,"v":30000000},{"s":"A3","g":"A","t":374.2,"v":26000000},{"s":"A3","g":"A","t":375.5,"v":20000000},{"s":"A3","g":"A","t":376.8,"v":14000000},{"s":"A3","g":"A","t":378,"v":9000000},{"s":"A3","g":"A","t":379.5,"v":5500000},{"s":"A3","g":"A","t":381.5,"v":2800000},{"s":"A3","g":"A","t":384,"v":1200000},{"s":"A3","g":"A","t":388,"v":400000},{"s":"A3","g":"A","t":395,"v":100000},{"s":"A3","g":"A","t":416.3,"v":0},
  {"s":"A4","g":"A","t":308.7,"v":0},{"s":"A4","g":"A","t":354,"v":0},{"s":"A4","g":"A","t":358,"v":500000},{"s":"A4","g":"A","t":361,"v":2000000},{"s":"A4","g":"A","t":363,"v":4500000},{"s":"A4","g":"A","t":365,"v":8500000},{"s":"A4","g":"A","t":367,"v":14000000},{"s":"A4","g":"A","t":369,"v":20000000},{"s":"A4","g":"A","t":371,"v":26000000},{"s":"A4","g":"A","t":372.7,"v":29600000},{"s":"A4","g":"A","t":374,"v":28500000},{"s":"A4","g":"A","t":375.2,"v":24000000},{"s":"A4","g":"A","t":376.5,"v":18000000},{"s":"A4","g":"A","t":377.8,"v":12000000},{"s":"A4","g":"A","t":379,"v":7500000},{"s":"A4","g":"A","t":381,"v":4000000},{"s":"A4","g":"A","t":383.5,"v":1800000},{"s":"A4","g":"A","t":387,"v":600000},{"s":"A4","g":"A","t":393,"v":150000},{"s":"A4","g":"A","t":416.3,"v":0},
  {"s":"A5","g":"A","t":308.7,"v":0},{"s":"A5","g":"A","t":355,"v":0},{"s":"A5","g":"A","t":359,"v":600000},{"s":"A5","g":"A","t":362,"v":2500000},{"s":"A5","g":"A","t":364,"v":5500000},{"s":"A5","g":"A","t":366,"v":10000000},{"s":"A5","g":"A","t":368,"v":15000000},{"s":"A5","g":"A","t":370,"v":21000000},{"s":"A5","g":"A","t":372,"v":26000000},{"s":"A5","g":"A","t":373.6,"v":28900000},{"s":"A5","g":"A","t":374.8,"v":28000000},{"s":"A5","g":"A","t":376,"v":24000000},{"s":"A5","g":"A","t":377.2,"v":18000000},{"s":"A5","g":"A","t":378.5,"v":12000000},{"s":"A5","g":"A","t":380,"v":7000000},{"s":"A5","g":"A","t":382,"v":3500000},{"s":"A5","g":"A","t":384.5,"v":1500000},{"s":"A5","g":"A","t":388,"v":500000},{"s":"A5","g":"A","t":395,"v":100000},{"s":"A5","g":"A","t":416.3,"v":0},
  {"s":"A6","g":"A","t":308.7,"v":0},{"s":"A6","g":"A","t":352,"v":0},{"s":"A6","g":"A","t":356,"v":500000},{"s":"A6","g":"A","t":359,"v":2000000},{"s":"A6","g":"A","t":361.5,"v":5000000},{"s":"A6","g":"A","t":363.5,"v":9000000},{"s":"A6","g":"A","t":365.5,"v":14000000},{"s":"A6","g":"A","t":367.5,"v":19500000},{"s":"A6","g":"A","t":369.5,"v":25000000},{"s":"A6","g":"A","t":371,"v":28200000},{"s":"A6","g":"A","t":372.3,"v":27000000},{"s":"A6","g":"A","t":373.5,"v":23000000},{"s":"A6","g":"A","t":375,"v":17000000},{"s":"A6","g":"A","t":376.5,"v":11000000},{"s":"A6","g":"A","t":378,"v":6500000},{"s":"A6","g":"A","t":380,"v":3500000},{"s":"A6","g":"A","t":382.5,"v":1500000},{"s":"A6","g":"A","t":386,"v":500000},{"s":"A6","g":"A","t":392,"v":100000},{"s":"A6","g":"A","t":409,"v":0},{"s":"A6","g":"A","t":416.3,"v":0},
  {"s":"C1","g":"C","t":308.7,"v":0},{"s":"C1","g":"C","t":353,"v":0},{"s":"C1","g":"C","t":356,"v":400000},{"s":"C1","g":"C","t":358,"v":1500000},{"s":"C1","g":"C","t":360,"v":4000000},{"s":"C1","g":"C","t":362,"v":8000000},{"s":"C1","g":"C","t":364,"v":13000000},{"s":"C1","g":"C","t":366,"v":19000000},{"s":"C1","g":"C","t":367.5,"v":24000000},{"s":"C1","g":"C","t":368.5,"v":29000000},{"s":"C1","g":"C","t":369.3,"v":32500000},{"s":"C1","g":"C","t":370.2,"v":35500000},{"s":"C1","g":"C","t":371,"v":32000000},{"s":"C1","g":"C","t":371.8,"v":28000000},{"s":"C1","g":"C","t":372.8,"v":23000000},{"s":"C1","g":"C","t":373.8,"v":17000000},{"s":"C1","g":"C","t":375,"v":11000000},{"s":"C1","g":"C","t":376.2,"v":6500000},{"s":"C1","g":"C","t":377.5,"v":3500000},{"s":"C1","g":"C","t":379.5,"v":1500000},{"s":"C1","g":"C","t":382,"v":500000},{"s":"C1","g":"C","t":388,"v":100000},{"s":"C1","g":"C","t":416.3,"v":0},
  {"s":"C2","g":"C","t":308.7,"v":0},{"s":"C2","g":"C","t":355,"v":0},{"s":"C2","g":"C","t":358,"v":600000},{"s":"C2","g":"C","t":360,"v":2500000},{"s":"C2","g":"C","t":362,"v":5500000},{"s":"C2","g":"C","t":364,"v":9500000},{"s":"C2","g":"C","t":366,"v":14000000},{"s":"C2","g":"C","t":367.8,"v":18500000},{"s":"C2","g":"C","t":369,"v":21000000},{"s":"C2","g":"C","t":369.7,"v":22200000},{"s":"C2","g":"C","t":370.5,"v":21000000},{"s":"C2","g":"C","t":371.5,"v":18500000},{"s":"C2","g":"C","t":372.5,"v":15000000},{"s":"C2","g":"C","t":373.5,"v":11500000},{"s":"C2","g":"C","t":374.5,"v":8000000},{"s":"C2","g":"C","t":375.8,"v":5000000},{"s":"C2","g":"C","t":377.2,"v":2800000},{"s":"C2","g":"C","t":379,"v":1300000},{"s":"C2","g":"C","t":382,"v":400000},{"s":"C2","g":"C","t":388,"v":50000},{"s":"C2","g":"C","t":416.3,"v":0},
  {"s":"C3","g":"C","t":308.7,"v":0},{"s":"C3","g":"C","t":355,"v":0},{"s":"C3","g":"C","t":358.5,"v":500000},{"s":"C3","g":"C","t":361,"v":2500000},{"s":"C3","g":"C","t":363,"v":5500000},{"s":"C3","g":"C","t":365,"v":9500000},{"s":"C3","g":"C","t":367,"v":14000000},{"s":"C3","g":"C","t":369,"v":18500000},{"s":"C3","g":"C","t":370.6,"v":21000000},{"s":"C3","g":"C","t":371.5,"v":20000000},{"s":"C3","g":"C","t":372.5,"v":17000000},{"s":"C3","g":"C","t":373.5,"v":13000000},{"s":"C3","g":"C","t":374.5,"v":9500000},{"s":"C3","g":"C","t":375.8,"v":6000000},{"s":"C3","g":"C","t":377.3,"v":3200000},{"s":"C3","g":"C","t":379,"v":1500000},{"s":"C3","g":"C","t":382,"v":500000},{"s":"C3","g":"C","t":388,"v":50000},{"s":"C3","g":"C","t":416.3,"v":0},
  {"s":"C4","g":"C","t":308.7,"v":0},{"s":"C4","g":"C","t":356,"v":0},{"s":"C4","g":"C","t":359,"v":600000},{"s":"C4","g":"C","t":361.5,"v":2800000},{"s":"C4","g":"C","t":363.5,"v":6000000},{"s":"C4","g":"C","t":365.5,"v":10000000},{"s":"C4","g":"C","t":367.5,"v":14500000},{"s":"C4","g":"C","t":369.5,"v":18500000},{"s":"C4","g":"C","t":371.5,"v":20500000},{"s":"C4","g":"C","t":372.5,"v":19500000},{"s":"C4","g":"C","t":373.5,"v":16500000},{"s":"C4","g":"C","t":374.8,"v":12000000},{"s":"C4","g":"C","t":376,"v":8000000},{"s":"C4","g":"C","t":377.5,"v":4500000},{"s":"C4","g":"C","t":379.5,"v":2000000},{"s":"C4","g":"C","t":382,"v":700000},{"s":"C4","g":"C","t":388,"v":100000},{"s":"C4","g":"C","t":416.3,"v":0},
  {"s":"C5","g":"C","t":308.7,"v":0},{"s":"C5","g":"C","t":354,"v":0},{"s":"C5","g":"C","t":357,"v":800000},{"s":"C5","g":"C","t":359.5,"v":3000000},{"s":"C5","g":"C","t":362,"v":7000000},{"s":"C5","g":"C","t":364,"v":11000000},{"s":"C5","g":"C","t":366,"v":15000000},{"s":"C5","g":"C","t":368.5,"v":18000000},{"s":"C5","g":"C","t":370,"v":17000000},{"s":"C5","g":"C","t":371.5,"v":14500000},{"s":"C5","g":"C","t":373,"v":11000000},{"s":"C5","g":"C","t":374.5,"v":7500000},{"s":"C5","g":"C","t":376,"v":4500000},{"s":"C5","g":"C","t":378,"v":2200000},{"s":"C5","g":"C","t":381,"v":800000},{"s":"C5","g":"C","t":386,"v":100000},{"s":"C5","g":"C","t":416.3,"v":0}
 ],
 "pD": [
  {"s":"C1","g":"C","t":858.2,"v":0},{"s":"C1","g":"C","t":879,"v":0},{"s":"C1","g":"C","t":880.5,"v":4000},{"s":"C1","g":"C","t":882,"v":8000},{"s":"C1","g":"C","t":883.5,"v":3000},{"s":"C1","g":"C","t":885,"v":6000},{"s":"C1","g":"C","t":886,"v":10000},{"s":"C1","g":"C","t":887.5,"v":5000},{"s":"C1","g":"C","t":889,"v":7000},{"s":"C1","g":"C","t":890.5,"v":2000},{"s":"C1","g":"C","t":892,"v":0},{"s":"C1","g":"C","t":896,"v":0},{"s":"C1","g":"C","t":898,"v":3000},{"s":"C1","g":"C","t":900,"v":5000},{"s":"C1","g":"C","t":902,"v":8000},{"s":"C1","g":"C","t":904,"v":6000},{"s":"C1","g":"C","t":906,"v":9000},{"s":"C1","g":"C","t":907.5,"v":12000},{"s":"C1","g":"C","t":908.5,"v":6000},{"s":"C1","g":"C","t":909.5,"v":10000},{"s":"C1","g":"C","t":911,"v":4000},{"s":"C1","g":"C","t":912.5,"v":7000},{"s":"C1","g":"C","t":914,"v":2000},{"s":"C1","g":"C","t":916,"v":0},{"s":"C1","g":"C","t":963.3,"v":0},
  {"s":"C2","g":"C","t":858.2,"v":0},{"s":"C2","g":"C","t":881,"v":0},{"s":"C2","g":"C","t":883,"v":5000},{"s":"C2","g":"C","t":885,"v":3000},{"s":"C2","g":"C","t":887,"v":8000},{"s":"C2","g":"C","t":889,"v":4000},{"s":"C2","g":"C","t":891,"v":0},{"s":"C2","g":"C","t":900,"v":0},{"s":"C2","g":"C","t":903,"v":4000},{"s":"C2","g":"C","t":905,"v":6000},{"s":"C2","g":"C","t":907,"v":10000},{"s":"C2","g":"C","t":908,"v":14000},{"s":"C2","g":"C","t":909,"v":8000},{"s":"C2","g":"C","t":910.5,"v":5000},{"s":"C2","g":"C","t":912,"v":8000},{"s":"C2","g":"C","t":913.5,"v":3000},{"s":"C2","g":"C","t":915,"v":0},{"s":"C2","g":"C","t":963.3,"v":0},
  {"s":"C3","g":"C","t":858.2,"v":0},{"s":"C3","g":"C","t":864,"v":0},{"s":"C3","g":"C","t":865,"v":3000},{"s":"C3","g":"C","t":866,"v":0},{"s":"C3","g":"C","t":875,"v":0},{"s":"C3","g":"C","t":878,"v":2000},{"s":"C3","g":"C","t":880,"v":0},{"s":"C3","g":"C","t":900,"v":0},{"s":"C3","g":"C","t":901,"v":3000},{"s":"C3","g":"C","t":904,"v":2000},{"s":"C3","g":"C","t":906,"v":5000},{"s":"C3","g":"C","t":908,"v":6000},{"s":"C3","g":"C","t":910,"v":3000},{"s":"C3","g":"C","t":913,"v":1000},{"s":"C3","g":"C","t":915,"v":0},{"s":"C3","g":"C","t":950,"v":0},{"s":"C3","g":"C","t":952,"v":3000},{"s":"C3","g":"C","t":954,"v":0},{"s":"C3","g":"C","t":963.3,"v":0},
  {"s":"B1","g":"B","t":858.2,"v":0},{"s":"B1","g":"B","t":862,"v":0},{"s":"B1","g":"B","t":863.5,"v":6000},{"s":"B1","g":"B","t":864.5,"v":2000},{"s":"B1","g":"B","t":866,"v":10000},{"s":"B1","g":"B","t":867,"v":4000},{"s":"B1","g":"B","t":868.5,"v":9000},{"s":"B1","g":"B","t":869.5,"v":1000},{"s":"B1","g":"B","t":872,"v":0},{"s":"B1","g":"B","t":898,"v":0},{"s":"B1","g":"B","t":900,"v":5000},{"s":"B1","g":"B","t":902,"v":10000},{"s":"B1","g":"B","t":903.5,"v":6000},{"s":"B1","g":"B","t":905,"v":12000},{"s":"B1","g":"B","t":906.5,"v":14000},{"s":"B1","g":"B","t":907.5,"v":20000},{"s":"B1","g":"B","t":908.5,"v":18000},{"s":"B1","g":"B","t":909.5,"v":28000},{"s":"B1","g":"B","t":910.5,"v":33000},{"s":"B1","g":"B","t":911.5,"v":22000},{"s":"B1","g":"B","t":912.5,"v":24000},{"s":"B1","g":"B","t":913.5,"v":15000},{"s":"B1","g":"B","t":914.5,"v":10000},{"s":"B1","g":"B","t":916,"v":3000},{"s":"B1","g":"B","t":918,"v":0},{"s":"B1","g":"B","t":924,"v":0},{"s":"B1","g":"B","t":925.5,"v":5000},{"s":"B1","g":"B","t":927,"v":2000},{"s":"B1","g":"B","t":928.5,"v":8000},{"s":"B1","g":"B","t":930,"v":4000},{"s":"B1","g":"B","t":931.5,"v":12000},{"s":"B1","g":"B","t":933,"v":6000},{"s":"B1","g":"B","t":934.5,"v":10000},{"s":"B1","g":"B","t":936,"v":5000},{"s":"B1","g":"B","t":938,"v":14000},{"s":"B1","g":"B","t":940,"v":8000},{"s":"B1","g":"B","t":941.5,"v":15000},{"s":"B1","g":"B","t":943,"v":18000},{"s":"B1","g":"B","t":944,"v":24000},{"s":"B1","g":"B","t":945,"v":12000},{"s":"B1","g":"B","t":946.5,"v":6000},{"s":"B1","g":"B","t":948,"v":2000},{"s":"B1","g":"B","t":950,"v":0},{"s":"B1","g":"B","t":954,"v":4000},{"s":"B1","g":"B","t":955.5,"v":8000},{"s":"B1","g":"B","t":957,"v":3000},{"s":"B1","g":"B","t":959,"v":7000},{"s":"B1","g":"B","t":960.5,"v":2000},{"s":"B1","g":"B","t":963.3,"v":0},
  {"s":"B2","g":"B","t":858.2,"v":0},{"s":"B2","g":"B","t":899,"v":0},{"s":"B2","g":"B","t":901,"v":4000},{"s":"B2","g":"B","t":903,"v":7000},{"s":"B2","g":"B","t":905,"v":9000},{"s":"B2","g":"B","t":906.5,"v":13000},{"s":"B2","g":"B","t":907.5,"v":24000},{"s":"B2","g":"B","t":908.5,"v":20000},{"s":"B2","g":"B","t":909.5,"v":15000},{"s":"B2","g":"B","t":910.5,"v":22000},{"s":"B2","g":"B","t":911.5,"v":30000},{"s":"B2","g":"B","t":912.5,"v":20000},{"s":"B2","g":"B","t":913.5,"v":12000},{"s":"B2","g":"B","t":915,"v":6000},{"s":"B2","g":"B","t":917,"v":0},{"s":"B2","g":"B","t":963.3,"v":0},
  {"s":"B3","g":"B","t":858.2,"v":0},{"s":"B3","g":"B","t":903,"v":0},{"s":"B3","g":"B","t":905,"v":6000},{"s":"B3","g":"B","t":907,"v":11000},{"s":"B3","g":"B","t":908.5,"v":14000},{"s":"B3","g":"B","t":910,"v":18000},{"s":"B3","g":"B","t":911.5,"v":14000},{"s":"B3","g":"B","t":913,"v":9000},{"s":"B3","g":"B","t":914.5,"v":5000},{"s":"B3","g":"B","t":916,"v":0},{"s":"B3","g":"B","t":922,"v":0},{"s":"B3","g":"B","t":924,"v":3000},{"s":"B3","g":"B","t":926,"v":7000},{"s":"B3","g":"B","t":928,"v":3000},{"s":"B3","g":"B","t":930,"v":10000},{"s":"B3","g":"B","t":932,"v":5000},{"s":"B3","g":"B","t":935,"v":9000},{"s":"B3","g":"B","t":937,"v":4000},{"s":"B3","g":"B","t":939,"v":11000},{"s":"B3","g":"B","t":941,"v":7000},{"s":"B3","g":"B","t":942.5,"v":12000},{"s":"B3","g":"B","t":944.5,"v":9000},{"s":"B3","g":"B","t":946,"v":3000},{"s":"B3","g":"B","t":948,"v":0},{"s":"B3","g":"B","t":963.3,"v":0},
  {"s":"A1","g":"A","t":858.2,"v":0},{"s":"A1","g":"A","t":905,"v":0},{"s":"A1","g":"A","t":907.5,"v":2000},{"s":"A1","g":"A","t":909,"v":15000},{"s":"A1","g":"A","t":910.3,"v":70000},{"s":"A1","g":"A","t":911.5,"v":170000},{"s":"A1","g":"A","t":912.6,"v":280000},{"s":"A1","g":"A","t":913.7,"v":331000},{"s":"A1","g":"A","t":914.5,"v":300000},{"s":"A1","g":"A","t":915.3,"v":230000},{"s":"A1","g":"A","t":916.2,"v":150000},{"s":"A1","g":"A","t":917.2,"v":80000},{"s":"A1","g":"A","t":918.3,"v":35000},{"s":"A1","g":"A","t":919.5,"v":12000},{"s":"A1","g":"A","t":921,"v":3000},{"s":"A1","g":"A","t":923,"v":0},{"s":"A1","g":"A","t":963.3,"v":0},
  {"s":"A2","g":"A","t":858.2,"v":0},{"s":"A2","g":"A","t":903,"v":0},{"s":"A2","g":"A","t":905.5,"v":3000},{"s":"A2","g":"A","t":906.8,"v":20000},{"s":"A2","g":"A","t":907.8,"v":80000},{"s":"A2","g":"A","t":908.8,"v":190000},{"s":"A2","g":"A","t":909.8,"v":280000},{"s":"A2","g":"A","t":910.8,"v":310000},{"s":"A2","g":"A","t":911.5,"v":292000},{"s":"A2","g":"A","t":912.4,"v":285000},{"s":"A2","g":"A","t":913.4,"v":230000},{"s":"A2","g":"A","t":914.4,"v":150000},{"s":"A2","g":"A","t":915.4,"v":85000},{"s":"A2","g":"A","t":916.5,"v":40000},{"s":"A2","g":"A","t":917.8,"v":15000},{"s":"A2","g":"A","t":919.5,"v":4000},{"s":"A2","g":"A","t":922,"v":0},{"s":"A2","g":"A","t":963.3,"v":0},
  {"s":"A3","g":"A","t":858.2,"v":0},{"s":"A3","g":"A","t":903,"v":0},{"s":"A3","g":"A","t":905.5,"v":5000},{"s":"A3","g":"A","t":906.5,"v":30000},{"s":"A3","g":"A","t":907.5,"v":100000},{"s":"A3","g":"A","t":908.6,"v":210000},{"s":"A3","g":"A","t":909.5,"v":280000},{"s":"A3","g":"A","t":910.1,"v":295000},{"s":"A3","g":"A","t":911,"v":285000},{"s":"A3","g":"A","t":912,"v":250000},{"s":"A3","g":"A","t":913,"v":190000},{"s":"A3","g":"A","t":914,"v":120000},{"s":"A3","g":"A","t":915,"v":65000},{"s":"A3","g":"A","t":916.2,"v":30000},{"s":"A3","g":"A","t":917.6,"v":10000},{"s":"A3","g":"A","t":919.5,"v":2000},{"s":"A3","g":"A","t":922,"v":0},{"s":"A3","g":"A","t":963.3,"v":0},
  {"s":"A4","g":"A","t":858.2,"v":0},{"s":"A4","g":"A","t":904,"v":0},{"s":"A4","g":"A","t":906.5,"v":4000},{"s":"A4","g":"A","t":907.8,"v":25000},{"s":"A4","g":"A","t":908.9,"v":90000},{"s":"A4","g":"A","t":910,"v":190000},{"s":"A4","g":"A","t":911.2,"v":265000},{"s":"A4","g":"A","t":912.2,"v":290000},{"s":"A4","g":"A","t":913.2,"v":270000},{"s":"A4","g":"A","t":914.2,"v":210000},{"s":"A4","g":"A","t":915.2,"v":135000},{"s":"A4","g":"A","t":916.3,"v":70000},{"s":"A4","g":"A","t":917.5,"v":30000},{"s":"A4","g":"A","t":919,"v":9000},{"s":"A4","g":"A","t":921,"v":1000},{"s":"A4","g":"A","t":963.3,"v":0},
  {"s":"A5","g":"A","t":858.2,"v":0},{"s":"A5","g":"A","t":905,"v":0},{"s":"A5","g":"A","t":907.5,"v":3000},{"s":"A5","g":"A","t":908.8,"v":20000},{"s":"A5","g":"A","t":910,"v":80000},{"s":"A5","g":"A","t":911.2,"v":170000},{"s":"A5","g":"A","t":912.3,"v":245000},{"s":"A5","g":"A","t":913.4,"v":277000},{"s":"A5","g":"A","t":914.3,"v":265000},{"s":"A5","g":"A","t":915.2,"v":215000},{"s":"A5","g":"A","t":916.2,"v":140000},{"s":"A5","g":"A","t":917.3,"v":75000},{"s":"A5","g":"A","t":918.5,"v":32000},{"s":"A5","g":"A","t":920,"v":10000},{"s":"A5","g":"A","t":922,"v":2000},{"s":"A5","g":"A","t":924,"v":0},{"s":"A5","g":"A","t":963.3,"v":0},
  {"s":"A6","g":"A","t":858.2,"v":0},{"s":"A6","g":"A","t":904,"v":0},{"s":"A6","g":"A","t":906,"v":3000},{"s":"A6","g":"A","t":907.3,"v":22000},{"s":"A6","g":"A","t":908.5,"v":95000},{"s":"A6","g":"A","t":909.6,"v":200000},{"s":"A6","g":"A","t":910.5,"v":270000},{"s":"A6","g":"A","t":911.4,"v":292000},{"s":"A6","g":"A","t":912.3,"v":280000},{"s":"A6","g":"A","t":913.2,"v":230000},{"s":"A6","g":"A","t":914.2,"v":160000},{"s":"A6","g":"A","t":915.3,"v":90000},{"s":"A6","g":"A","t":916.5,"v":40000},{"s":"A6","g":"A","t":918,"v":12000},{"s":"A6","g":"A","t":920,"v":2000},{"s":"A6","g":"A","t":922,"v":0},{"s":"A6","g":"A","t":963.3,"v":0}
 ],
 "aA": [{"lab":"C","t":282.4,"v":1790000,"t2":308.7,"v2":1694000},{"lab":"Lm","t":287.8,"v":847000,"t2":267.3,"v2":1448000},{"lab":"Lp","t":281.8,"v":123000,"t2":309.2,"v2":825000}],
 "aB": [{"lab":"C","t":342.0,"v":13960000,"t2":369.2,"v2":13060000},{"lab":"Lm","t":335.0,"v":7580000,"t2":317.5,"v2":11600000},{"lab":"Lp","t":339.7,"v":500000,"t2":367.5,"v2":5680000}],
 "aC": [{"lab":"C","t":374.9,"v":27800000,"t2":392.9,"v2":25300000},{"lab":"Lm","t":365.9,"v":16950000,"t2":346.6,"v2":16000000},{"lab":"Lp","t":376.6,"v":1930000,"t2":398.5,"v2":9040000}],
 "aD": [{"lab":"C","t":917.0,"v":200700,"t2":930.4,"v2":209000},{"lab":"Lm","t":907.6,"v":11200,"t2":886.1,"v2":104800},{"lab":"Lp","t":912.4,"v":31600,"t2":939.3,"v2":76900}]
},
"concat": [
 {
  "width": 449, "height": 354,
  "title": {"text": "Extracted Ion Chromatogram: 113.03 - 113.03 m/z"},
  "encoding": {
   "x": {"field": "t", "type": "quantitative", "scale": {"domain": [230.3, 338.1], "nice": false, "zero": false}, "axis": {"values": [240, 260, 280, 300, 320], "title": "Retention Time (seconds)"}},
   "y": {"field": "v", "type": "quantitative", "scale": {"domain": [-106557, 2795000], "nice": false, "zero": false}, "axis": {"values": [0, 500000, 1000000, 1500000, 2000000, 2500000], "format": "d", "title": "Intensity"}}
  },
  "layer": [
   {"data": {"name": "pA"}, "mark": {"type": "line", "strokeWidth": 1, "clip": true},
    "encoding": {
     "color": {"field": "g", "type": "nominal", "scale": {"domain": ["A", "B", "C"], "range": ["#000000", "#ff0000", "#00c800"]}, "legend": {"title": null}},
     "opacity": {"field": "s", "type": "nominal", "scale": {"type": "ordinal", "domain": ["A1","A2","A3","A4","A5","A6","B1","B2","B3","B4","B5","C1","C2","C3","C4","C5"], "range": [1,0.85,0.65,0.5,0.35,0.25,0.3,0.9,0.7,1,0.5,1,0.85,0.65,0.5,0.35]}, "legend": null},
     "detail": {"field": "s", "type": "nominal"}}},
   {"data": {"name": "aA"}, "mark": {"type": "rule", "strokeWidth": 2.5, "color": "#000"}, "encoding": {"x2": {"field": "t2"}, "y2": {"field": "v2"}}},
   {"data": {"name": "aA"}, "mark": {"type": "point", "shape": "M0,0L-0.7,2L0.7,2Z", "filled": true, "color": "#000", "opacity": 1, "size": 196, "strokeWidth": 0},
    "encoding": {"angle": {"field": "lab", "type": "nominal", "scale": {"type": "ordinal", "domain": ["C", "Lm", "Lp"], "range": [276, 130.5, 233]}, "legend": null}}},
   {"data": {"values": [{"lab": "Uracil", "t": 238.3, "v": 2470000}]}, "mark": {"type": "text", "font": "Lato", "fontSize": 26, "fontWeight": "bold", "align": "left", "baseline": "middle", "color": "#000"}, "encoding": {"text": {"field": "lab"}}},
   {"data": {"values": [{"lab": "(A)", "t": 211.3, "v": 2557000}]}, "mark": {"type": "text", "font": "Lato", "fontSize": 25, "align": "center", "baseline": "middle", "color": "#000"}, "encoding": {"text": {"field": "lab"}}},
   {"data": {"values": [{"lab": "C", "t": 313.0, "v": 1680000}]}, "mark": {"type": "text", "font": "Lato", "fontSize": 25, "fontWeight": "bold", "align": "center", "baseline": "middle", "color": "#000"}, "encoding": {"text": {"field": "lab"}}},
   {"data": {"values": [{"lab": "Lm", "t": 257.5, "v": 1650000}, {"lab": "Lp", "t": 314.3, "v": 820000}]}, "mark": {"type": "text", "font": "Lato", "fontSize": 25, "fontWeight": "bold", "fontStyle": "italic", "align": "center", "baseline": "middle", "color": "#000"}, "encoding": {"text": {"field": "lab"}}}
  ]
 },
 {
  "width": 452, "height": 354,
  "title": {"text": "Extracted Ion Chromatogram: 136.01 - 136.06 m/z", "offset": 9},
  "encoding": {
   "x": {"field": "t", "type": "quantitative", "scale": {"domain": [289.2, 397.7], "nice": false, "zero": false}, "axis": {"values": [300, 320, 340, 360, 380], "title": "Retention Time (seconds)"}},
   "y": {"field": "v", "type": "quantitative", "scale": {"domain": [-769000, 20180000], "nice": false, "zero": false}, "axis": {"values": [0, 5000000, 10000000, 15000000, 20000000], "labelExpr": "replace(format(datum.value, '.1e'), 'e+', 'e+0')", "title": "Intensity"}}
  },
  "layer": [
   {"data": {"name": "pB"}, "mark": {"type": "line", "strokeWidth": 1, "clip": true},
    "encoding": {
     "color": {"field": "g", "type": "nominal", "scale": {"domain": ["A", "B", "C"], "range": ["#000000", "#ff0000", "#00c800"]}, "legend": {"title": null}},
     "opacity": {"field": "s", "type": "nominal", "scale": {"type": "ordinal", "domain": ["A1","A2","A3","A4","A5","A6","B1","B2","B3","B4","B5","C1","C2","C3","C4","C5"], "range": [1,0.85,0.65,0.5,0.35,0.25,0.3,0.9,0.7,1,0.5,1,0.85,0.65,0.5,0.35]}, "legend": null},
     "detail": {"field": "s", "type": "nominal"}}},
   {"data": {"name": "aB"}, "mark": {"type": "rule", "strokeWidth": 2.5, "color": "#000"}, "encoding": {"x2": {"field": "t2"}, "y2": {"field": "v2"}}},
   {"data": {"name": "aB"}, "mark": {"type": "point", "shape": "M0,0L-0.7,2L0.7,2Z", "filled": true, "color": "#000", "opacity": 1, "size": 196, "strokeWidth": 0},
    "encoding": {"angle": {"field": "lab", "type": "nominal", "scale": {"type": "ordinal", "domain": ["C", "Lm", "Lp"], "range": [277.5, 132.6, 233.3]}, "legend": null}}},
   {"data": {"values": [{"lab": "Adenine", "t": 296.6, "v": 18150000}]}, "mark": {"type": "text", "font": "Lato", "fontSize": 26, "fontWeight": "bold", "align": "left", "baseline": "middle", "color": "#000"}, "encoding": {"text": {"field": "lab"}}},
   {"data": {"values": [{"lab": "(B)", "t": 275.7, "v": 18580000}]}, "mark": {"type": "text", "font": "Lato", "fontSize": 25, "align": "center", "baseline": "middle", "color": "#000"}, "encoding": {"text": {"field": "lab"}}},
   {"data": {"values": [{"lab": "C", "t": 373.4, "v": 13360000}]}, "mark": {"type": "text", "font": "Lato", "fontSize": 25, "fontWeight": "bold", "align": "center", "baseline": "middle", "color": "#000"}, "encoding": {"text": {"field": "lab"}}},
   {"data": {"values": [{"lab": "Lm", "t": 311.1, "v": 12760000}, {"lab": "Lp", "t": 374.7, "v": 6380000}]}, "mark": {"type": "text", "font": "Lato", "fontSize": 25, "fontWeight": "bold", "fontStyle": "italic", "align": "center", "baseline": "middle", "color": "#000"}, "encoding": {"text": {"field": "lab"}}}
  ]
 },
 {
  "width": 449, "height": 350,
  "title": {"text": "Extracted Ion Chromatogram: 152.06 - 152.07 m/z"},
  "encoding": {
   "x": {"field": "t", "type": "quantitative", "scale": {"domain": [308.7, 416.3], "nice": false, "zero": false}, "axis": {"values": [320, 340, 360, 380, 400], "title": "Retention Time (seconds)"}},
   "y": {"field": "v", "type": "quantitative", "scale": {"domain": [-1520000, 36520000], "nice": false, "zero": false}, "axis": {"values": [0, 5000000, 10000000, 15000000, 20000000, 25000000, 30000000, 35000000], "labelExpr": "datum.value % 10000000 == 0 ? replace(format(datum.value, '.1e'), 'e+', 'e+0') : ''", "title": "Intensity"}}
  },
  "layer": [
   {"data": {"name": "pC"}, "mark": {"type": "line", "strokeWidth": 1, "clip": true},
    "encoding": {
     "color": {"field": "g", "type": "nominal", "scale": {"domain": ["A", "B", "C"], "range": ["#000000", "#ff0000", "#00c800"]}, "legend": {"title": null}},
     "opacity": {"field": "s", "type": "nominal", "scale": {"type": "ordinal", "domain": ["A1","A2","A3","A4","A5","A6","B1","B2","B3","B4","B5","C1","C2","C3","C4","C5"], "range": [1,0.85,0.65,0.5,0.35,0.25,0.3,0.9,0.7,1,0.5,1,0.85,0.65,0.5,0.35]}, "legend": null},
     "detail": {"field": "s", "type": "nominal"}}},
   {"data": {"name": "aC"}, "mark": {"type": "rule", "strokeWidth": 2.5, "color": "#000"}, "encoding": {"x2": {"field": "t2"}, "y2": {"field": "v2"}}},
   {"data": {"name": "aC"}, "mark": {"type": "point", "shape": "M0,0L-0.7,2L0.7,2Z", "filled": true, "color": "#000", "opacity": 1, "size": 196, "strokeWidth": 0},
    "encoding": {"angle": {"field": "lab", "type": "nominal", "scale": {"type": "ordinal", "domain": ["C", "Lm", "Lp"], "range": [287.3, 83.6, 234.5]}, "legend": null}}},
   {"data": {"values": [{"lab": "Guanine", "t": 318.3, "v": 32900000}]}, "mark": {"type": "text", "font": "Lato", "fontSize": 26, "fontWeight": "bold", "align": "left", "baseline": "middle", "color": "#000"}, "encoding": {"text": {"field": "lab"}}},
   {"data": {"values": [{"lab": "(C)", "t": 289.6, "v": 33100000}]}, "mark": {"type": "text", "font": "Lato", "fontSize": 25, "align": "center", "baseline": "middle", "color": "#000"}, "encoding": {"text": {"field": "lab"}}},
   {"data": {"values": [{"lab": "C", "t": 397.2, "v": 24500000}]}, "mark": {"type": "text", "font": "Lato", "fontSize": 25, "fontWeight": "bold", "align": "center", "baseline": "middle", "color": "#000"}, "encoding": {"text": {"field": "lab"}}},
   {"data": {"values": [{"lab": "Lm", "t": 337.2, "v": 16300000}, {"lab": "Lp", "t": 405.8, "v": 10900000}]}, "mark": {"type": "text", "font": "Lato", "fontSize": 25, "fontWeight": "bold", "fontStyle": "italic", "align": "center", "baseline": "middle", "color": "#000"}, "encoding": {"text": {"field": "lab"}}}
  ]
 },
 {
  "width": 452, "height": 350,
  "title": {"text": "Extracted Ion Chromatogram: 377.15 - 377.15 m/z"},
  "encoding": {
   "x": {"field": "t", "type": "quantitative", "scale": {"domain": [858.2, 963.3], "nice": false, "zero": false}, "axis": {"values": [860, 880, 900, 920, 940, 960], "title": "Retention Time (seconds)"}},
   "y": {"field": "v", "type": "quantitative", "scale": {"domain": [-14286, 342857], "nice": false, "zero": false}, "axis": {"values": [0, 50000, 100000, 150000, 200000, 250000, 300000], "labelExpr": "datum.value == 100000 || datum.value == 200000 || datum.value == 300000 ? '' : format(datum.value, 'd')", "title": "Intensity"}}
  },
  "layer": [
   {"data": {"name": "pD"}, "mark": {"type": "line", "strokeWidth": 1, "clip": true},
    "encoding": {
     "color": {"field": "g", "type": "nominal", "scale": {"domain": ["A", "B", "C"], "range": ["#000000", "#ff0000", "#00c800"]}, "legend": {"title": null}},
     "opacity": {"field": "s", "type": "nominal", "scale": {"type": "ordinal", "domain": ["A1","A2","A3","A4","A5","A6","B1","B2","B3","B4","B5","C1","C2","C3","C4","C5"], "range": [1,0.85,0.65,0.5,0.35,0.25,0.3,0.9,0.7,1,0.5,1,0.85,0.65,0.5,0.35]}, "legend": null},
     "detail": {"field": "s", "type": "nominal"}}},
   {"data": {"name": "aD"}, "mark": {"type": "rule", "strokeWidth": 2.5, "color": "#000"}, "encoding": {"x2": {"field": "t2"}, "y2": {"field": "v2"}}},
   {"data": {"name": "aD"}, "mark": {"type": "point", "shape": "M0,0L-0.7,2L0.7,2Z", "filled": true, "color": "#000", "opacity": 1, "size": 196, "strokeWidth": 0},
    "encoding": {"angle": {"field": "lab", "type": "nominal", "scale": {"type": "ordinal", "domain": ["C", "Lm", "Lp"], "range": [261.8, 134.6, 249]}, "legend": null}}},
   {"data": {"values": [{"lab": "Riboflavin", "t": 865.0, "v": 305000}]}, "mark": {"type": "text", "font": "Lato", "fontSize": 26, "fontWeight": "bold", "align": "left", "baseline": "middle", "color": "#000"}, "encoding": {"text": {"field": "lab"}}},
   {"data": {"values": [{"lab": "(D)", "t": 848.2, "v": 310500}]}, "mark": {"type": "text", "font": "Lato", "fontSize": 25, "align": "center", "baseline": "middle", "color": "#000"}, "encoding": {"text": {"field": "lab"}}},
   {"data": {"values": [{"lab": "C", "t": 935.4, "v": 206800}]}, "mark": {"type": "text", "font": "Lato", "fontSize": 25, "fontWeight": "bold", "align": "center", "baseline": "middle", "color": "#000"}, "encoding": {"text": {"field": "lab"}}},
   {"data": {"values": [{"lab": "Lm", "t": 878.6, "v": 130300}, {"lab": "Lp", "t": 945.8, "v": 84400}]}, "mark": {"type": "text", "font": "Lato", "fontSize": 25, "fontWeight": "bold", "fontStyle": "italic", "align": "center", "baseline": "middle", "color": "#000"}, "encoding": {"text": {"field": "lab"}}}
  ]
 }
]
}
